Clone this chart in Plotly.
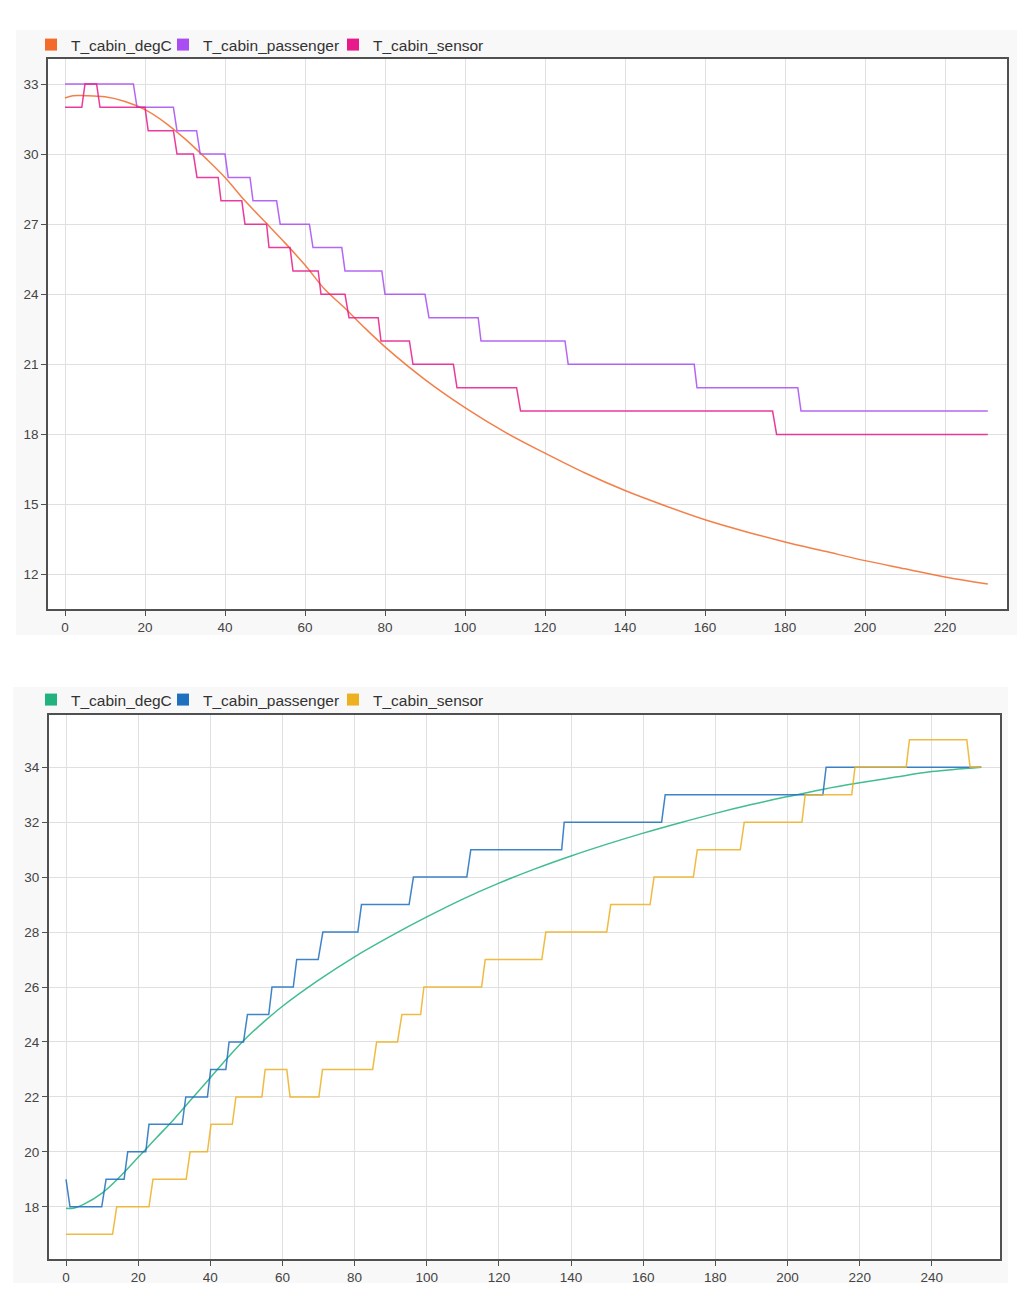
import plotly.graph_objects as go

# ---------------- data: top chart (cooling) ----------------
top_degC_x = [0, 2, 5, 10, 15, 20, 25, 30, 35, 40, 45, 50, 55, 60, 65, 70, 75, 80, 90,
              100, 110, 120, 130, 140, 150, 160, 170, 180, 190, 200, 210, 220, 230.7]
top_degC_y = [32.4, 32.5, 32.5, 32.45, 32.25, 31.9, 31.35, 30.65, 29.85, 29.0, 28.0, 27.1,
              26.2, 25.25, 24.2, 23.4, 22.55, 21.75, 20.35, 19.15, 18.1, 17.2, 16.35, 15.6,
              14.95, 14.35, 13.85, 13.4, 13.0, 12.6, 12.25, 11.9, 11.6]

top_pass_x = [0, 17.1, 18, 27.1, 28, 32.9, 33.8, 40, 40.8, 46.25, 47, 52.9, 53.8, 61.1, 62,
              69.2, 70, 79.2, 80, 90, 91, 103.3, 104, 125, 125.8, 157.3, 158, 183.2, 184, 230.7]
top_pass_y = [33, 33, 32, 32, 31, 31, 30, 30, 29, 29, 28, 28, 27, 27, 26, 26, 25, 25, 24, 24,
              23, 23, 22, 22, 21, 21, 20, 20, 19, 19]

top_sens_x = [0, 4.2, 5, 7.9, 8.75, 20, 20.8, 27.1, 28, 32.1, 33, 38.3, 39, 44.2, 45, 50.4, 51,
              56.25, 57, 63.3, 64, 70, 71, 78.3, 79, 86.1, 87, 97.1, 98, 112.9, 113.9, 176.9,
              177.9, 230.7]
top_sens_y = [32, 32, 33, 33, 32, 32, 31, 31, 30, 30, 29, 29, 28, 28, 27, 27, 26, 26, 25, 25,
              24, 24, 23, 23, 22, 22, 21, 21, 20, 20, 19, 19, 18, 18]

# ---------------- data: bottom chart (heating) ----------------
bot_degC_x = [0, 2, 5, 10, 15, 20, 25, 30, 35, 40, 45, 50, 55, 60, 70, 80, 90, 100, 110, 120,
              130, 140, 150, 160, 170, 180, 190, 200, 210, 220, 230, 240, 253.7]
bot_degC_y = [17.95, 17.95, 18.1, 18.5, 19.1, 19.8, 20.5, 21.2, 21.95, 22.7, 23.45, 24.15,
              24.75, 25.3, 26.25, 27.1, 27.85, 28.55, 29.2, 29.78, 30.3, 30.77, 31.2, 31.6,
              31.97, 32.32, 32.64, 32.93, 33.2, 33.43, 33.64, 33.84, 34.0]

bot_pass_x = [0, 1.1, 9.9, 11.1, 16.1, 17.1, 22.1, 23, 32.2, 33.2, 39.2, 40.1, 44.3, 45.2, 49.2,
              50.3, 56.2, 57.1, 63, 63.95, 69.9, 71.2, 80.9, 81.9, 95.1, 96.3, 111.1, 112.2,
              137.4, 138.1, 165.1, 166.1, 209.8, 210.7, 253.7]
bot_pass_y = [19, 18, 18, 19, 19, 20, 20, 21, 21, 22, 22, 23, 23, 24, 24, 25, 25, 26, 26, 27,
              27, 28, 28, 29, 29, 30, 30, 31, 31, 32, 32, 33, 33, 34, 34]

bot_sens_x = [0, 12.9, 14.05, 23, 24.1, 33.3, 34.4, 39.2, 40.2, 46.1, 47.1, 54.3, 55.2, 61.2,
              62.1, 70.1, 71.1, 85, 86.1, 91.9, 93.1, 98.3, 99.2, 115.2, 116.2, 131.9, 133,
              149.9, 151, 161.9, 163, 173.9, 175, 186.9, 188, 204, 204.9, 217.8, 218.7, 232.9,
              233.8, 249.7, 250.6, 253.7]
bot_sens_y = [17, 17, 18, 18, 19, 19, 20, 20, 21, 21, 22, 22, 23, 23, 22, 22, 23, 23, 24, 24,
              25, 25, 26, 26, 27, 27, 28, 28, 29, 29, 30, 30, 31, 31, 32, 32, 33, 33, 34, 34,
              35, 35, 34, 34]

series_names = ["T_cabin_degC", "T_cabin_passenger", "T_cabin_sensor"]
top_colors = ["#F26B2A", "#A94DF2", "#E8198B"]
bot_colors = ["#21B27D", "#1F6FBF", "#EDB120"]
legend_widths = [87, 125, 0]

FONT = "Liberation Sans, Arial, sans-serif"

fig = go.Figure()

top_data = [(top_degC_x, top_degC_y, True), (top_pass_x, top_pass_y, False),
            (top_sens_x, top_sens_y, False)]
bot_data = [(bot_degC_x, bot_degC_y, True), (bot_pass_x, bot_pass_y, False),
            (bot_sens_x, bot_sens_y, False)]

for (xs, ys, smooth), c, n in zip(top_data, top_colors, series_names):
    fig.add_trace(go.Scatter(
        x=xs, y=ys, mode="lines", name=n, showlegend=False,
        line=dict(color=c, width=1.5, shape="spline" if smooth else "linear",
                  smoothing=1.0 if smooth else None),
        opacity=0.85, xaxis="x", yaxis="y"))
for (xs, ys, smooth), c, n in zip(bot_data, bot_colors, series_names):
    fig.add_trace(go.Scatter(
        x=xs, y=ys, mode="lines", name=n, showlegend=False,
        line=dict(color=c, width=1.5, shape="spline" if smooth else "linear",
                  smoothing=1.0 if smooth else None),
        opacity=0.85, xaxis="x2", yaxis="y2"))

# legend entries (square swatches)
for c, n, w in zip(top_colors, series_names, legend_widths):
    fig.add_trace(go.Scatter(
        x=[None], y=[None], mode="markers", name=n, legend="legend",
        marker=dict(symbol="square", size=12, color=c),
        legendwidth=w if w else None, xaxis="x", yaxis="y"))
for c, n, w in zip(bot_colors, series_names, legend_widths):
    fig.add_trace(go.Scatter(
        x=[None], y=[None], mode="markers", name=n, legend="legend2",
        marker=dict(symbol="square", size=12, color=c),
        legendwidth=w if w else None, xaxis="x2", yaxis="y2"))

W, H = 1024, 1300

def px_x(p):
    return p / W

def px_y(p):
    return 1 - p / H

axis_common = dict(
    showgrid=True, gridcolor="#E0E0E0", gridwidth=1,
    showline=True, linecolor="#505050", linewidth=1.5, mirror=True,
    ticks="outside", ticklen=5, tickcolor="#505050", tickwidth=1,
    tickfont=dict(family=FONT, size=13.5, color="#444444"),
    zeroline=False, fixedrange=True,
)

fig.update_layout(
    width=W, height=H, autosize=False,
    margin=dict(l=0, r=0, t=0, b=0),
    paper_bgcolor="white", plot_bgcolor="white",
    font=dict(family=FONT, color="#333333"),
    xaxis=dict(domain=[px_x(48), px_x(1007)], range=[-4.25, 235.5],
               tick0=0, dtick=20, anchor="y", **axis_common),
    yaxis=dict(domain=[px_y(609), px_y(59)], range=[10.53, 34.07],
               tick0=0, dtick=3, anchor="x", **axis_common),
    xaxis2=dict(domain=[px_x(48.7), px_x(1000)], range=[-4.8, 258.9],
                tick0=0, dtick=20, anchor="y2", **axis_common),
    yaxis2=dict(domain=[px_y(1259), px_y(715)], range=[16.1, 35.9],
                tick0=0, dtick=2, anchor="x2", **axis_common),
    legend=dict(orientation="h", x=px_x(31), xanchor="left", y=px_y(45), yanchor="middle",
                bgcolor="rgba(0,0,0,0)", borderwidth=0,
                font=dict(family=FONT, size=15.5, color="#333333")),
    legend2=dict(orientation="h", x=px_x(31), xanchor="left", y=px_y(700), yanchor="middle",
                 bgcolor="rgba(0,0,0,0)", borderwidth=0,
                 font=dict(family=FONT, size=15.5, color="#333333")),
    shapes=[
        dict(type="rect", xref="paper", yref="paper", layer="below",
             x0=px_x(16), x1=px_x(1017), y0=px_y(635), y1=px_y(30),
             fillcolor="#F8F8F8", line=dict(width=0)),
        dict(type="rect", xref="paper", yref="paper", layer="below",
             x0=px_x(13), x1=px_x(1008), y0=px_y(1283), y1=px_y(687),
             fillcolor="#F8F8F8", line=dict(width=0)),
        dict(type="rect", xref="x domain", yref="y domain", layer="below",
             x0=0, x1=1, y0=0, y1=1, fillcolor="white", line=dict(width=0)),
        dict(type="rect", xref="x2 domain", yref="y2 domain", layer="below",
             x0=0, x1=1, y0=0, y1=1, fillcolor="white", line=dict(width=0)),
    ],
)

fig.write_html("out.html")
